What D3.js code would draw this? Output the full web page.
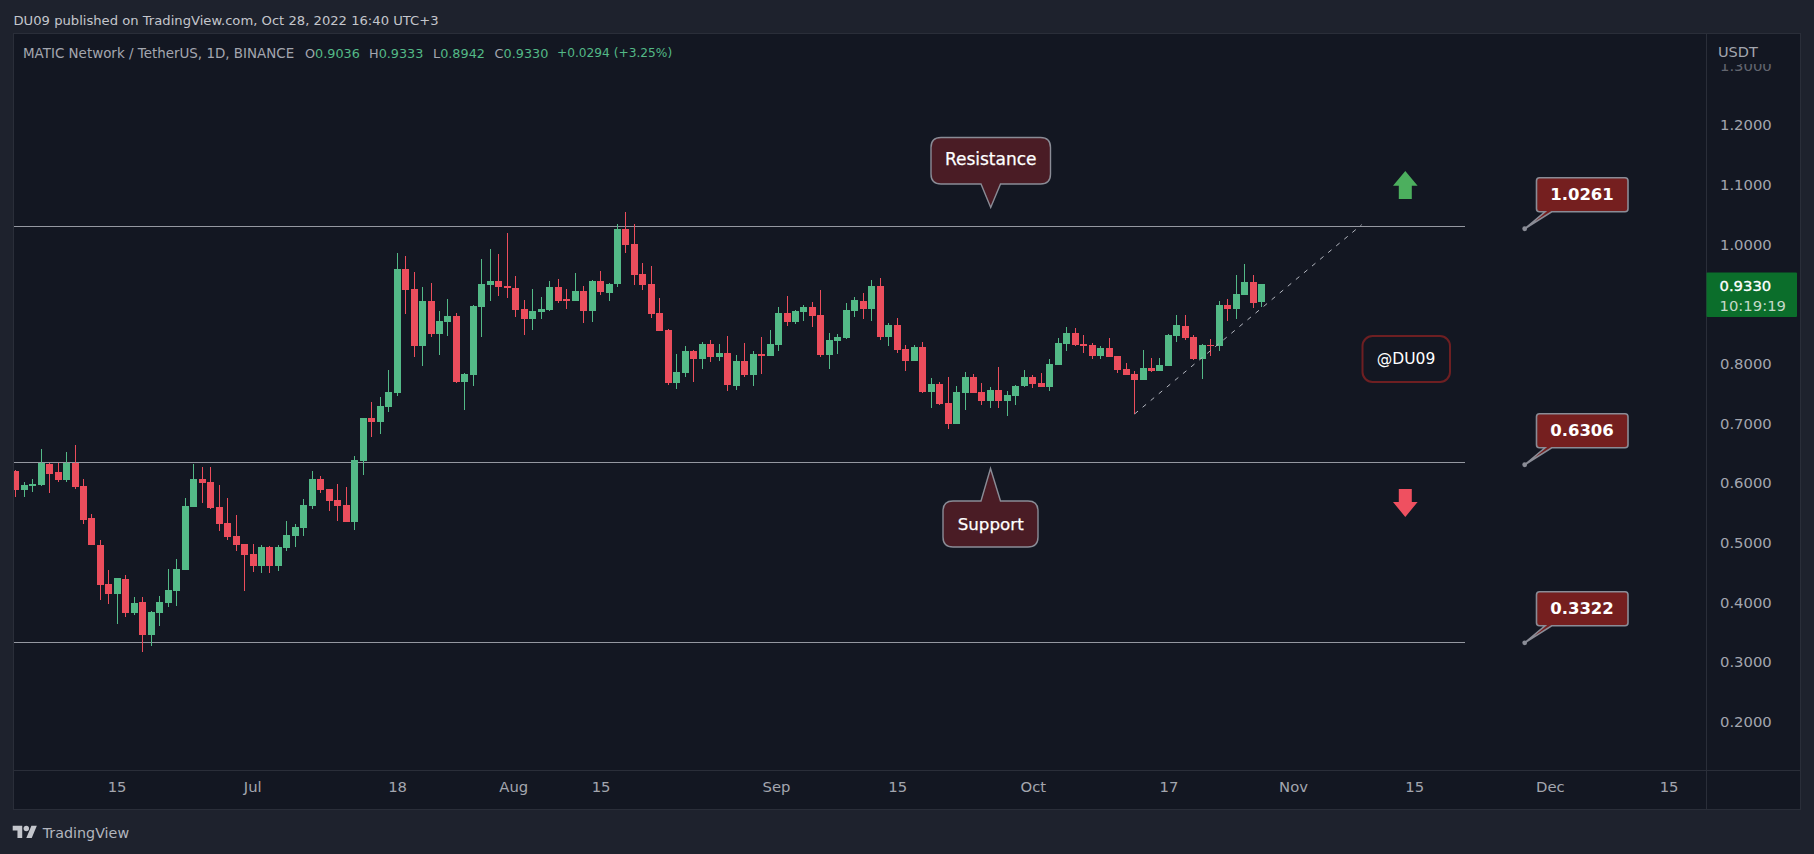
<!DOCTYPE html>
<html><head><meta charset="utf-8">
<script src="https://cdnjs.cloudflare.com/ajax/libs/d3/7.8.5/d3.min.js"></script>
<style>html,body{margin:0;padding:0;background:#1e222d}svg{display:block}text{font-family:"DejaVu Sans",sans-serif}</style>
</head><body><div id="chart"></div>
<script>
// Daily candles, 3 Jun 2022 (bar 0) to 28 Oct 2022 (bar 147)
const opens=[.6201,.5883,.5950,.5967,.6319,.6185,.6051,.6335,.5950,.5414,.4961,.4308,.4140,.4391,.3822,.4006,.3453,.3822,.3989,.4190,
.4542,.5598,.6067,.6017,.5598,.5330,.5112,.4978,.4810,.4609,.4928,.4609,.4911,.5112,.5246,.5615,.6067,.5900,.5715,.5632,
.5347,.6369,.7090,.7023,.7274,.7509,.9587,.9251,.8296,.9050,.8497,.8698,.8799,.7693,.7810,.8950,.9318,.9386,.9302,.9268,
.8916,.8749,.8866,.8900,.9285,.9084,.9050,.9218,.8883,.9386,.9184,.9335,1.0257,1.0006,.9503,.9335,.8849,.8564,.7676,.7844,
.8212,.8078,.8330,.8112,.8179,.7626,.8045,.7810,.8162,.8129,.8313,.8849,.8698,.8866,.8950,.8816,.8145,.8380,.8430,.8883,
.9050,.8916,.9302,.8447,.8649,.8246,.8045,.8280,.7526,.7660,.7341,.6989,.7509,.7777,.7526,.7375,.7559,.7375,.7459,.7626,
.7777,.7676,.7609,.7978,.8330,.8514,.8330,.8313,.8129,.8263,.8129,.7911,.7827,.7727,.7928,.7878,.7961,.8464,.8632,.8447,
.8079,.8313,.8297,.8984,.8917,.9151,.9369,.9036];
const highs=[.6218,.6017,.6067,.6570,.6335,.6341,.6520,.6637,.6067,.5481,.5045,.4542,.4408,.4458,.4090,.4090,.3855,.4106,.4559,.4727,
.5749,.6319,.6268,.6268,.5967,.5749,.5464,.4978,.4978,.4961,.4944,.4961,.5363,.5313,.5732,.6201,.6118,.5900,.5983,.5933,
.6453,.7090,.7358,.7441,.7894,.9855,.9805,.9536,.9285,.9352,.8883,.9084,.8849,.7844,.8983,.9754,.9922,.9838,1.0190,.9469,
.9067,.9251,.9117,.9386,.9419,.9251,.9520,.9302,.9402,.9553,.9352,1.0341,1.0542,1.0341,.9687,.9637,.9101,.8581,.8162,.8296,
.8229,.8363,.8397,.8330,.8464,.8145,.8346,.8212,.8447,.8564,.8950,.9134,.8900,.8983,.9034,.9235,.8514,.8497,.9017,.9117,
.9184,.9402,.9436,.8682,.8766,.8313,.8313,.8364,.7760,.7693,.7777,.7626,.7861,.7827,.7676,.7609,.7945,.7542,.7643,.7894,
.7811,.7844,.8079,.8431,.8615,.8598,.8481,.8347,.8297,.8431,.8129,.8012,.7878,.8230,.8095,.8095,.8498,.8816,.8816,.8481,
.8330,.8414,.9051,.9084,.9486,.9671,.9486,.9333];
const lows=[.5766,.5766,.5849,.5950,.5833,.6017,.6017,.5900,.5313,.4961,.4039,.3972,.3637,.3755,.3788,.3168,.3269,.3604,.3922,.3939,
.4542,.5598,.5665,.5564,.5196,.5045,.4861,.4190,.4509,.4492,.4492,.4525,.4861,.4928,.5112,.5564,.5833,.5531,.5363,.5347,
.5213,.6134,.6771,.6821,.7190,.7458,.8832,.8112,.7961,.8447,.8145,.8464,.7676,.7224,.7626,.8447,.9050,.9134,.9101,.8782,
.8481,.8564,.8749,.8883,.9017,.8916,.9050,.8682,.8698,.9151,.9050,.9285,.9855,.9318,.9235,.8765,.8548,.7643,.7576,.7777,
.7693,.7911,.8028,.8045,.7542,.7559,.7777,.7626,.7827,.8129,.8212,.8631,.8665,.8715,.8615,.8112,.7911,.8162,.8414,.8782,
.8749,.8715,.8397,.8297,.8179,.7878,.8045,.7509,.7258,.7308,.6906,.6989,.7224,.7509,.7308,.7258,.7258,.7123,.7308,.7609,
.7593,.7609,.7542,.7978,.8213,.8297,.8179,.8079,.8079,.8112,.7844,.7811,.7157,.7727,.7861,.7878,.7961,.8364,.8397,.8062,
.7744,.8129,.8213,.8716,.8749,.9151,.8933,.8942];
const closes=[.5883,.5967,.5983,.6341,.6151,.6051,.6341,.5933,.5380,.4961,.4291,.4140,.4408,.3822,.3989,.3453,.3838,.4006,.4207,.4559,
.5615,.6067,.6000,.5581,.5313,.5095,.4961,.4794,.4609,.4928,.4609,.4928,.5129,.5263,.5632,.6067,.5883,.5699,.5615,.5347,
.6386,.7090,.7023,.7291,.7525,.9587,.9235,.8296,.9050,.8497,.8715,.8799,.7693,.7827,.8967,.9335,.9386,.9285,.9268,.8900,
.8749,.8883,.8916,.9285,.9050,.9050,.9218,.8883,.9386,.9201,.9335,1.0257,.9989,.9486,.9318,.8832,.8548,.7676,.7860,.8212,
.8078,.8330,.8112,.8179,.7643,.8045,.7810,.8162,.8129,.8330,.8849,.8698,.8883,.8950,.8799,.8145,.8397,.8447,.8900,.9067,
.8916,.9302,.8447,.8649,.8230,.8045,.8280,.7526,.7660,.7325,.6989,.7526,.7777,.7509,.7375,.7559,.7375,.7475,.7626,.7777,
.7660,.7609,.7995,.8347,.8514,.8313,.8297,.8129,.8263,.8112,.7894,.7811,.7727,.7928,.7878,.7978,.8481,.8649,.8431,.8079,
.8313,.8297,.8984,.8917,.9168,.9369,.9017,.9330];

const priceTicks=[.2,.3,.4,.5,.6,.7,.8,1.0,1.1,1.2,1.3];
const timeBars=[11.9,27.9,45,58.7,69,89.7,104,120,136,150.7,165,181,195];
const timeLabels=["15","Jul","18","Aug","15","Sep","15","Oct","17","Nov","15","Dec","15"];
const levelLines=[1.0303,.6347,.3331];
const levelTags=[1.0261,.6306,.3322];
const trendBars=[132,158.8], trendPrices=[.7157,1.0330];

const W=1814,H=854,L=13.5,R=1800.5,T=33.5,B=809.5,AX=1706.5,TB=770.5;
const bg="#131722",outer="#1e222d",border="#2a2e39",up="#53b987",dn="#eb4d5c",muted="#a3a6af",ann="#8a8c96";

const x=d3.scaleLinear().domain([0,147]).range([15.7,1261.7]);
const y=d3.scaleLinear().domain([.2,1.2]).range([721.7,125]);

const svg=d3.select("#chart").append("svg").attr("width",W).attr("height",H);
svg.append("rect").attr("width",W).attr("height",H).attr("fill",outer);
svg.append("rect").attr("x",L).attr("y",T).attr("width",R-L).attr("height",B-T).attr("fill",bg).attr("stroke",border);
const defs=svg.append("defs");
defs.append("clipPath").attr("id","plot").append("rect").attr("x",14).attr("y",T).attr("width",AX-14).attr("height",TB-T);
defs.append("clipPath").attr("id","yclip").append("rect").attr("x",0).attr("y",64).attr("width",R-AX).attr("height",TB-64);

svg.append("line").attr("x1",AX).attr("x2",AX).attr("y1",T).attr("y2",B).attr("stroke",border);
svg.append("line").attr("x1",L).attr("x2",R).attr("y1",TB).attr("y2",TB).attr("stroke",border);

// level lines
const plot=svg.append("g").attr("clip-path","url(#plot)");
plot.selectAll("line.level").data(levelLines).join("line").attr("class","level")
 .attr("x1",14).attr("x2",1465).attr("y1",d=>Math.round(y(d))+.5).attr("y2",d=>Math.round(y(d))+.5)
 .attr("stroke","#9598a1").attr("stroke-width",1);

// candles
const idx=d3.range(opens.length);
const col=i=>closes[i]>=opens[i]?up:dn;
const c=plot.append("g").attr("shape-rendering","crispEdges");
c.selectAll("rect.w").data(idx).join("rect").attr("class","w")
 .attr("x",i=>Math.floor(x(i))).attr("width",1)
 .attr("y",i=>Math.round(y(highs[i]))).attr("height",i=>Math.max(1,Math.round(y(lows[i]))-Math.round(y(highs[i]))))
 .attr("fill",col);
c.selectAll("rect.b").data(idx).join("rect").attr("class","b")
 .attr("x",i=>Math.floor(x(i))-3).attr("width",7)
 .attr("y",i=>Math.round(y(Math.max(opens[i],closes[i]))))
 .attr("height",i=>Math.max(1,Math.round(y(Math.min(opens[i],closes[i])))-Math.round(y(Math.max(opens[i],closes[i])))))
 .attr("fill",col);

// trend line
plot.append("line").attr("x1",x(trendBars[0])).attr("y1",y(trendPrices[0])).attr("x2",x(trendBars[1])).attr("y2",y(trendPrices[1]))
 .attr("stroke","#b2b5be").attr("stroke-width",1).attr("stroke-dasharray","4.5 6");

// axes
const yAxis=svg.append("g").attr("clip-path","url(#yclip)").attr("transform",`translate(${AX},0)`)
 .call(d3.axisRight(y).tickValues(priceTicks).tickSize(0).tickPadding(13.5).tickFormat(d3.format(".4f")));
yAxis.select(".domain").remove();
yAxis.selectAll("text").attr("fill",muted).style("font-size","14.8px").style("font-family",'"DejaVu Sans"');
yAxis.selectAll(".tick").filter(d=>d===1.3).select("text").attr("opacity",.55);

const xAxis=svg.append("g").attr("transform",`translate(0,${TB})`)
 .call(d3.axisBottom(x).tickValues(timeBars).tickSize(0).tickPadding(11).tickFormat((d,i)=>timeLabels[i]));
xAxis.select(".domain").remove();
xAxis.selectAll("text").attr("fill",muted).style("font-size","14.8px").style("font-family",'"DejaVu Sans"');

// callout path helper
function callout(x0,y0,x1,y1,r,side,b0,b1,tx,ty){
 const p=d3.path();
 p.moveTo(x0+r,y0);
 if(side==="top"){p.lineTo(b0,y0);p.lineTo(tx,ty);p.lineTo(b1,y0);}
 p.lineTo(x1-r,y0);p.quadraticCurveTo(x1,y0,x1,y0+r);
 p.lineTo(x1,y1-r);p.quadraticCurveTo(x1,y1,x1-r,y1);
 if(side==="bottom"){p.lineTo(b1,y1);p.lineTo(tx,ty);p.lineTo(b0,y1);}
 p.lineTo(x0+r,y1);p.quadraticCurveTo(x0,y1,x0,y1-r);
 p.lineTo(x0,y0+r);p.quadraticCurveTo(x0,y0,x0+r,y0);p.closePath();
 return p.toString();
}
const anno=svg.append("g");
function label(tx,cx,cy,size,weight,fill){
 return anno.append("text").text(tx).attr("x",cx).attr("y",cy).attr("text-anchor","middle").attr("dominant-baseline","central")
  .attr("fill",fill||"#fff").attr("font-size",size).attr("font-weight",weight||400);
}
// Resistance / Support
anno.append("path").attr("d",callout(931,137.5,1050.5,184,10,"bottom",981,1000.5,990.7,207.5)).attr("fill","#4a1c25").attr("stroke",ann).attr("stroke-width",1.4);
label("Resistance",990.7,159,17).attr("stroke","#fff").attr("stroke-width",.25);
anno.append("path").attr("d",callout(943,501,1038,547,10,"top",981,1000.5,990.5,468.5)).attr("fill","#4a1c25").attr("stroke",ann).attr("stroke-width",1.4);
label("Support",990.7,524,16.7).attr("stroke","#fff").attr("stroke-width",.25);

// price tags
levelTags.forEach(v=>{
 const ty=y(v), tx=1524.7;
 anno.append("path").attr("d",callout(1536.5,ty-51,1628,ty-17,3,"bottom",1545,1551.7,tx,ty)).attr("fill","#751f1f").attr("stroke",ann).attr("stroke-width",1.6);
 anno.append("circle").attr("cx",tx).attr("cy",ty).attr("r",2.4).attr("fill",ann);
 label(d3.format(".4f")(v),1582,ty-34.5,16.5,700);
});

// arrows
const arrow=(d,f)=>anno.append("path").attr("d",d).attr("fill",f);
const ax0=1405.3;
arrow(d3.line()([[ax0,171],[ax0+12.3,185.7],[ax0+6.5,185.7],[ax0+6.5,199],[ax0-6.5,199],[ax0-6.5,185.7],[ax0-12.3,185.7]])+"Z","#4caf5e");
arrow(d3.line()([[ax0,517],[ax0+12.3,502],[ax0+6.5,502],[ax0+6.5,489],[ax0-6.5,489],[ax0-6.5,502],[ax0-12.3,502]])+"Z","#ef5060");

// @DU09
anno.append("rect").attr("x",1362.5).attr("y",336).attr("width",87.5).attr("height",46).attr("rx",10).attr("fill","none").attr("stroke","#6e1f22").attr("stroke-width",2);
label("@DU09",1406,358.5,15.5);

// price tag on axis
svg.append("rect").attr("x",AX).attr("y",272.5).attr("width",90.5).attr("height",44.5).attr("rx",1).attr("fill","#0b6e2b");
svg.append("text").text("0.9330").attr("x",1719.5).attr("y",285).attr("dominant-baseline","central").attr("fill","#fff").attr("font-size",14.8).attr("stroke","#fff").attr("stroke-width",.3);
svg.append("text").text("10:19:19").attr("x",1719.5).attr("y",305).attr("dominant-baseline","central").attr("fill","#c3d9c8").attr("font-size",14.8);
svg.append("text").text("USDT").attr("x",1718).attr("y",52).attr("dominant-baseline","central").attr("fill",muted).attr("font-size",14.5);

// header
svg.append("text").text("DU09 published on TradingView.com, Oct 28, 2022 16:40 UTC+3").attr("x",13.5).attr("y",20).attr("dominant-baseline","central").attr("fill","#c4c6cc").attr("font-size",13.15);
svg.append("text").text("MATIC Network / TetherUS, 1D, BINANCE").attr("x",23).attr("y",53).attr("dominant-baseline","central").attr("fill",muted).attr("font-size",13.45);
const ohlc=[["O","0.9036",305],["H","0.9333",369],["L","0.8942",433],["C","0.9330",494.6]];
ohlc.forEach(([k,v,px])=>{
 const t=svg.append("text").attr("x",px).attr("y",53).attr("dominant-baseline","central").attr("font-size",12.8);
 t.append("tspan").text(k).attr("fill",muted);
 t.append("tspan").text(v).attr("fill",up);
});
svg.append("text").text("+0.0294 (+3.25%)").attr("x",557).attr("y",53).attr("dominant-baseline","central").attr("fill",up).attr("font-size",12.2);

// footer logo
const logo=svg.append("g").attr("transform","translate(12.7,823) scale(.68)").attr("fill","#c4c6cc");
logo.append("path").attr("d","M14 22H7V11H0V4h14v18zM28 22h-8l7.5-18h8L28 22z");
logo.append("circle").attr("cx",20).attr("cy",8).attr("r",4);
svg.append("text").text("TradingView").attr("x",42.7).attr("y",832.7).attr("dominant-baseline","central").attr("fill","#b2b5be").attr("font-size",14.3);
</script></body></html>
